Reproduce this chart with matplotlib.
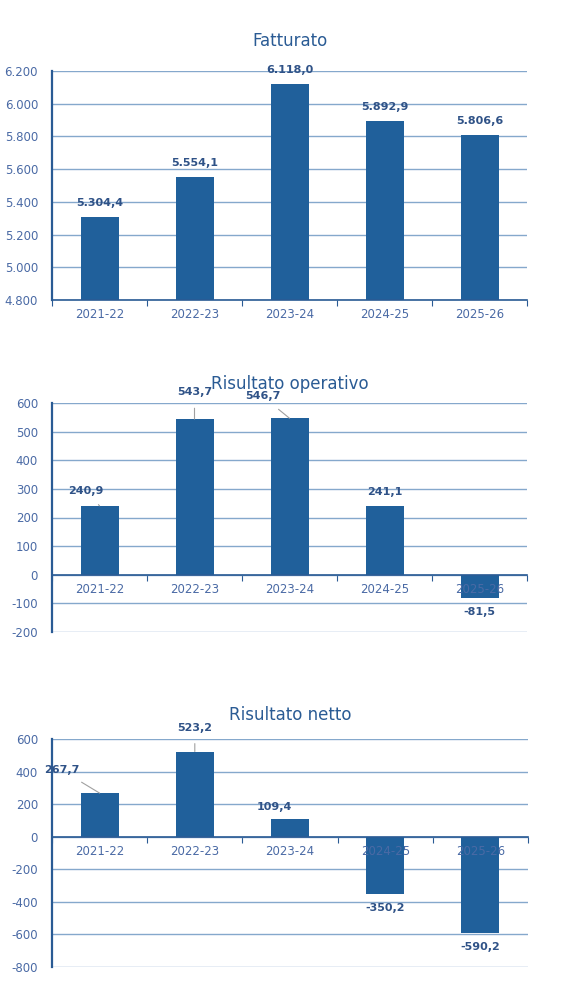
import matplotlib
matplotlib.use("Agg")
import matplotlib.pyplot as plt

years = ["2021-22", "2022-23", "2023-24", "2024-25", "2025-26"]
fatturato = [5304.4, 5554.1, 6118.0, 5892.9, 5806.6]
operativo = [240.9, 543.7, 546.7, 241.1, -81.5]
netto = [267.7, 523.2, 109.4, -350.2, -590.2]

BAR = "#20609B"
GRID = "#85A8CC"
SPINE = "#2A5B94"
TICK = "#4A6AA5"
LAB = "#2F5287"

def fmt(v, dec=1):
    s = f"{abs(v):,.{dec}f}".replace(",", "X").replace(".", ",").replace("X", ".")
    return ("-" if v < 0 else "") + s

fig = plt.figure(figsize=(5.79, 10.06), dpi=100)
H = 1006.0; W = 579.0

def make_ax(top, bot, right=527):
    return fig.add_axes([52/W, 1-bot/H, (right-52)/W, (bot-top)/H])

def style(ax, ylim, step, yfmt, zero):
    ax.set_ylim(*ylim)
    ax.set_xlim(-0.5, 4.5)
    ticks = [ylim[0] + i*step for i in range(int(round((ylim[1]-ylim[0])/step))+1)]
    ax.set_yticks(ticks)
    ax.set_yticklabels([yfmt(t) for t in ticks], color=TICK, fontsize=8.5)
    ax.tick_params(axis='y', length=0, pad=10)
    ax.grid(axis='y', color=GRID, linewidth=1)
    ax.set_axisbelow(True)
    for s in ["top", "right"]:
        ax.spines[s].set_visible(False)
    ax.spines['left'].set_color(SPINE); ax.spines['left'].set_linewidth(1.6)
    ax.spines['bottom'].set_color(SPINE); ax.spines['bottom'].set_linewidth(1.2)
    ax.spines['bottom'].set_position(('data', zero))
    ax.set_xticks([0.5+i for i in range(-1, 5)])
    ax.set_xticklabels([])
    ax.tick_params(axis='x', length=4, color=SPINE, direction='out')
    for i, y in enumerate(years):
        ax.annotate(y, (i, zero), xytext=(0, -15), textcoords='offset pixels',
                    ha='center', va='center', color=TICK, fontsize=8.5)

def label(ax, x, v, dx, dy, line=False):
    kw = dict(ha='center', va='center', color=LAB, fontsize=8, fontweight='bold')
    if line:
        kw['arrowprops'] = dict(arrowstyle='-', color='#A0A0A0', lw=0.8, shrinkA=6, shrinkB=0)
    ax.annotate(fmt(v), (x, v), xytext=(dx, dy), textcoords='offset pixels', **kw)

# Panel 1
ax1 = make_ax(71, 300)
ax1.bar(range(5), fatturato, width=0.4, color=BAR, zorder=2)
style(ax1, (4800, 6200), 200, lambda t: fmt(t, 3) if False else f"{t/1000:.3f}".replace(".", ","), 4800)
ax1.set_yticklabels([f"{int(t):,}".replace(",", ".") + "" for t in ax1.get_yticks()], color=TICK, fontsize=8.5)
ax1.set_yticklabels([f"{t/1000:.1f}".replace(".", ",").replace(",", ".") + "00" for t in ax1.get_yticks()], color=TICK, fontsize=8.5)
for i, v in enumerate(fatturato):
    label(ax1, i, v, 0, 14)
ax1.set_title("Fatturato", color=SPINE, fontsize=12, pad=18)

# Panel 2
ax2 = make_ax(403, 632)
ax2.bar(range(5), operativo, width=0.4, color=BAR, zorder=2)
style(ax2, (-200, 600), 100, lambda t: f"{int(t)}", 0)
label(ax2, 0, operativo[0], -14, 15, True)
label(ax2, 1, operativo[1], 0, 27, True)
label(ax2, 2, operativo[2], -27, 22, True)
label(ax2, 3, operativo[3], 0, 14)
label(ax2, 4, operativo[4], 0, -14)
ax2.set_title("Risultato operativo", color=SPINE, fontsize=12, pad=10)

# Panel 3
ax3 = make_ax(739, 967, 528)
ax3.bar(range(5), netto, width=0.4, color=BAR, zorder=2)
style(ax3, (-800, 600), 200, lambda t: f"{int(t)}", 0)
label(ax3, 0, netto[0], -38, 23, True)
label(ax3, 1, netto[1], 0, 24, True)
label(ax3, 2, netto[2], -16, 12)
label(ax3, 3, netto[3], 0, -14)
label(ax3, 4, netto[4], 0, -14)
ax3.set_title("Risultato netto", color=SPINE, fontsize=12, pad=14)

fig.savefig("out.png", dpi=100)
